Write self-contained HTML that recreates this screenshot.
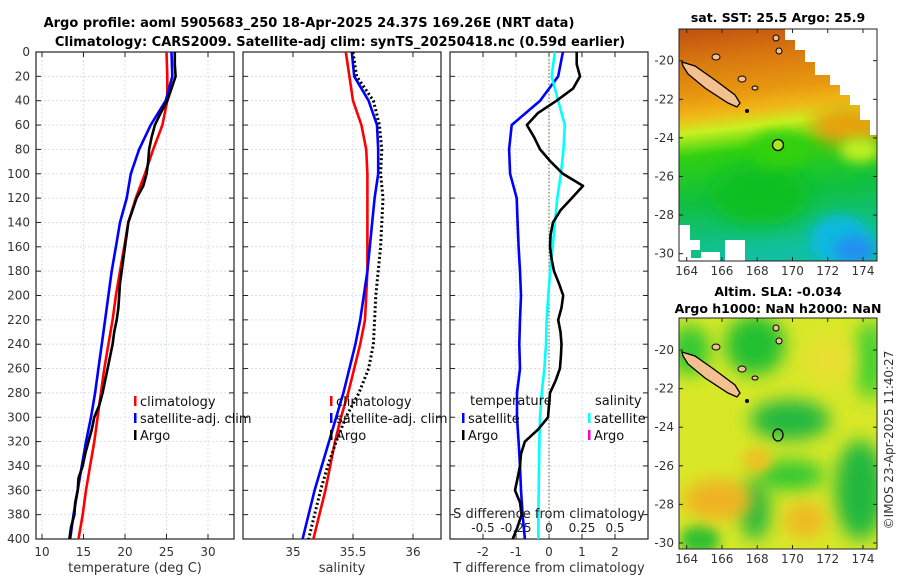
<!DOCTYPE html>
<html><head><meta charset="utf-8"><style>
body{margin:0;background:#fff;width:900px;height:580px;overflow:hidden}
svg{display:block;font-family:"DejaVu Sans","Liberation Sans",sans-serif}
</style></head><body>
<svg id="fig" width="900" height="580" viewBox="0 0 900 580">
<defs>
<filter id="bl" x="-50%" y="-50%" width="200%" height="200%"><feGaussianBlur stdDeviation="9"/></filter>
<filter id="bl2" x="-50%" y="-50%" width="200%" height="200%"><feGaussianBlur stdDeviation="6"/></filter>
<clipPath id="m1c"><rect x="679" y="29" width="198" height="232"/></clipPath>
<clipPath id="m2c"><rect x="679" y="318" width="198" height="231"/></clipPath>
<linearGradient id="sstg" x1="0" y1="0" x2="0.1" y2="1">
<stop offset="0" stop-color="#c05010"/><stop offset="0.15" stop-color="#d87810"/><stop offset="0.3" stop-color="#e89810"/>
<stop offset="0.38" stop-color="#f0b818"/><stop offset="0.45" stop-color="#c8f020"/><stop offset="0.55" stop-color="#30d010"/>
<stop offset="0.75" stop-color="#10c040"/><stop offset="1" stop-color="#10c0a0"/></linearGradient>
</defs>
<g id="titles" font-weight="bold" font-size="13" text-anchor="middle">
<text x="309" y="27">Argo profile: aoml 5905683_250 18-Apr-2025 24.37S 169.26E (NRT data)</text>
<text x="340" y="46">Climatology: CARS2009. Satellite-adj clim: synTS_20250418.nc (0.59d earlier)</text>
</g>
<g id="panels"></g>

<!-- map 1 -->
<g>
<g clip-path="url(#m1c)">
<rect x="679" y="29" width="198" height="232" fill="url(#sstg)"/>
<ellipse cx="760" cy="195" rx="50" ry="30" fill="#10c020" filter="url(#bl)"/>
<ellipse cx="850" cy="125" rx="40" ry="20" fill="#e8a010" filter="url(#bl)"/>
<ellipse cx="860" cy="150" rx="20" ry="12" fill="#c0f020" filter="url(#bl2)"/>
<ellipse cx="840" cy="240" rx="30" ry="25" fill="#10b8e0" filter="url(#bl2)"/>
<ellipse cx="855" cy="250" rx="20" ry="14" fill="#2090f0" filter="url(#bl2)"/>
<ellipse cx="780" cy="150" rx="30" ry="18" fill="#30d010" filter="url(#bl2)"/>
<polygon points="785,29 877,29 877,135 870,135 870,120 860,120 860,105 850,105 850,95 840,95 840,85 830,85 830,75 815,75 815,62 805,62 805,50 795,50 795,40 785,40" fill="#fff"/>
<polygon points="679,225 690,225 690,240 700,240 700,252 720,252 720,261 679,261" fill="#fff"/>
<rect x="725" y="240" width="20" height="21" fill="#fff"/>
<rect x="691" y="250" width="10" height="8" fill="#10c080"/>
</g>
<polygon points="682,62 695,66 715,80 735,95 740,103 737,107 728,103 705,88 688,74 683,66" fill="#f5c090" stroke="#000" stroke-width="1.3"/>
<ellipse cx="716" cy="57" rx="4" ry="3" fill="#f5c090" stroke="#000"/>
<ellipse cx="742" cy="79" rx="4" ry="3" fill="#f5c090" stroke="#000"/>
<ellipse cx="755" cy="88" rx="3" ry="2" fill="#f5c090" stroke="#000"/>
<ellipse cx="776" cy="38" rx="3" ry="3" fill="#f5c090" stroke="#000"/>
<ellipse cx="779" cy="51" rx="3" ry="3" fill="#f5c090" stroke="#000"/>
<circle cx="747" cy="111" r="2" fill="#000"/>
<circle cx="778" cy="145" r="5.5" fill="#a8e820" stroke="#000" stroke-width="1.3"/>
<rect x="679" y="29" width="198" height="232" fill="none" stroke="#222" stroke-width="1"/>
</g>
<!-- map 2 -->
<g>
<g clip-path="url(#m2c)">
<rect x="679" y="318" width="198" height="231" fill="#d8e828"/>
<ellipse cx="690" cy="350" rx="20" ry="25" fill="#30c830" filter="url(#bl)"/>
<ellipse cx="755" cy="345" rx="30" ry="30" fill="#20c030" filter="url(#bl)"/>
<ellipse cx="790" cy="420" rx="40" ry="20" fill="#20b840" filter="url(#bl)"/>
<ellipse cx="790" cy="475" rx="35" ry="15" fill="#30c830" filter="url(#bl)"/>
<ellipse cx="755" cy="510" rx="15" ry="30" fill="#20b840" filter="url(#bl)"/>
<ellipse cx="860" cy="490" rx="25" ry="50" fill="#20b840" filter="url(#bl)"/>
<ellipse cx="870" cy="360" rx="15" ry="40" fill="#40d030" filter="url(#bl)"/>
<ellipse cx="700" cy="540" rx="20" ry="15" fill="#30c030" filter="url(#bl2)"/>
<ellipse cx="718" cy="500" rx="35" ry="20" fill="#f0b020" filter="url(#bl)"/>
<ellipse cx="757" cy="460" rx="15" ry="12" fill="#f0c020" filter="url(#bl2)"/>
<ellipse cx="805" cy="520" rx="22" ry="18" fill="#f0b820" filter="url(#bl)"/>
<ellipse cx="830" cy="360" rx="25" ry="25" fill="#e8e030" filter="url(#bl)"/>
</g>
<polygon points="682,352 695,356 715,370 735,385 740,393 737,397 728,393 705,378 688,364 683,356" fill="#f5c090" stroke="#000" stroke-width="1.3"/>
<ellipse cx="716" cy="347" rx="4" ry="3" fill="#f5c090" stroke="#000"/>
<ellipse cx="742" cy="369" rx="4" ry="3" fill="#f5c090" stroke="#000"/>
<ellipse cx="755" cy="378" rx="3" ry="2" fill="#f5c090" stroke="#000"/>
<ellipse cx="776" cy="328" rx="3" ry="3" fill="#f5c090" stroke="#000"/>
<ellipse cx="779" cy="341" rx="3" ry="3" fill="#f5c090" stroke="#000"/>
<circle cx="747" cy="401" r="2" fill="#000"/>
<ellipse cx="778" cy="435" rx="5" ry="6" fill="none" stroke="#000" stroke-width="1.3"/>
<rect x="679" y="318" width="198" height="231" fill="none" stroke="#222" stroke-width="1"/>
</g>
<g font-weight="bold" font-size="12.5" text-anchor="middle">
<text x="778" y="22">sat. SST: 25.5 Argo: 25.9</text>
<text x="778" y="296">Altim. SLA: -0.034</text>
<text x="778" y="313">Argo h1000: NaN h2000: NaN</text>
</g>
<g id="maxes" font-size="12" fill="#333"></g>
<text transform="translate(893,440) rotate(-90)" text-anchor="middle" font-size="12" fill="#333">©IMOS 23-Apr-2025 11:40:27</text>
</svg>
<script>
// ---- data ----
const depths = [0,20,40,60,80,100,120,140,160,180,200,220,240,260,280,300,320,340,360,380,400];
const tempClim = [25.0,25.1,25.1,24.5,23.4,22.4,21.3,20.4,19.9,19.4,18.9,18.5,18.0,17.5,17.1,16.7,16.3,15.8,15.3,14.9,14.4];
const tempSat  = [25.6,25.7,24.9,23.1,21.7,20.7,20.2,19.4,18.9,18.4,18.0,17.6,17.2,16.8,16.4,15.9,15.3,14.8,14.3,13.8,13.4];
const argoDepths = [0,10,20,30,40,50,60,70,80,90,100,110,120,130,140,150,160,170,180,190,200,210,220,230,240,250,260,270,280,290,300,310,320,330,340,350,360,370,380,390,400];
const tempArgo = [26.0,26.0,26.1,25.6,25.1,24.3,23.6,23.2,22.9,22.8,22.6,22.2,21.4,20.9,20.4,20.2,20.0,19.8,19.6,19.4,19.3,19.2,19.0,18.7,18.5,18.2,17.9,17.6,17.3,16.9,16.3,16.0,15.6,15.2,14.9,14.4,14.3,14.0,13.9,13.5,13.3];
const salClim = [35.44,35.47,35.50,35.57,35.61,35.62,35.62,35.62,35.62,35.62,35.61,35.60,35.56,35.51,35.46,35.40,35.35,35.31,35.27,35.22,35.17];
const salSat  = [35.49,35.51,35.63,35.70,35.71,35.71,35.68,35.66,35.64,35.62,35.59,35.56,35.52,35.47,35.42,35.36,35.30,35.24,35.18,35.13,35.08];
const salArgo = [35.50,35.53,35.67,35.72,35.74,35.73,35.75,35.74,35.73,35.71,35.69,35.68,35.67,35.63,35.55,35.44,35.36,35.29,35.23,35.18,35.13];
const tDiffArgo = [0.84,0.84,0.94,0.73,0.23,-0.33,-0.67,-0.45,-0.27,0.05,0.42,1.03,0.69,0.35,0.12,0.05,0.03,0.08,0.15,0.3,0.43,0.38,0.28,0.35,0.38,0.36,0.33,0.2,0.03,0.0,-0.03,-0.33,-0.73,-0.85,-0.88,-0.95,-1.03,-0.88,-0.83,-0.95,-1.1];
const tDiffSat = [0.42,0.28,-0.27,-1.13,-1.21,-1.18,-0.98,-0.95,-0.92,-0.88,-0.85,-0.88,-0.9,-0.88,-0.97,-0.97,-0.92,-0.88,-0.85,-0.8,-0.73];
const sDiffSat = [0.045,0.02,0.07,0.12,0.11,0.09,0.063,0.045,0.028,0.008,-0.005,-0.018,-0.023,-0.035,-0.055,-0.068,-0.073,-0.076,-0.078,-0.08,-0.081];
const depthTicks = [0,20,40,60,80,100,120,140,160,180,200,220,240,260,280,300,320,340,360,380,400];
const tempTicks = [10,15,20,25,30];
const salTicks = [35,35.5,36];
const dTTicks = [-2,-1,0,1,2];
const dSTicks = ["-0.5","-0.25","0","0.25","0.5"];
const lonTicks = [164,166,168,170,172,174];
const latTicks = [-20,-22,-24,-26,-28,-30];

const NS='http://www.w3.org/2000/svg';
const top0=52, bot=539;
const yD = d => top0 + d*(bot-top0)/400;
function el(tag, attrs, parent){const e=document.createElementNS(NS,tag);for(const k in attrs)e.setAttribute(k,attrs[k]);parent.appendChild(e);return e;}
const P=document.getElementById('panels');
const panels=[
 {x0:36,x1:234,v0:10,px0:42,scale:8.3,name:'temperature-panel'},
 {x0:243,x1:441,v0:35,px0:293,scale:120,name:'salinity-panel'},
 {x0:450,x1:648,v0:0,px0:549,scale:33,name:'difference-panel'}];
function xf(p){return v=>p.px0+(v-p.v0)*p.scale;}
function line(p, xs, ds, color, dash, name){
  const f=xf(p); const pts=xs.map((v,i)=>f(v).toFixed(1)+','+yD(ds[i]).toFixed(1)).join(' ');
  const e=el('polyline',{points:pts,fill:'none',stroke:color,'stroke-width':dash?3:2.6,'stroke-linejoin':'round'},P);
  if(dash)e.setAttribute('stroke-dasharray',dash);
  
  
}
function frame(p, ticks, labels, title){
  const g=el('g',{},P);
  
  
  const f=xf(p);
  depthTicks.forEach(d=>{el('line',{x1:p.x0,x2:p.x1,y1:yD(d),y2:yD(d),stroke:'#cfd5f0','stroke-width':0.8,'stroke-dasharray':'2,2'},g);
    el('line',{x1:p.x0,x2:p.x0+5,y1:yD(d),y2:yD(d),stroke:'#222'},g);el('line',{x1:p.x1-5,x2:p.x1,y1:yD(d),y2:yD(d),stroke:'#222'},g);});
  ticks.forEach((t,i)=>{const x=f(t);el('line',{x1:x,x2:x,y1:top0,y2:bot,stroke:'#cfd5f0','stroke-width':0.8,'stroke-dasharray':'2,2'},g);
    el('line',{x1:x,x2:x,y1:bot-5,y2:bot,stroke:'#222'},g);el('line',{x1:x,x2:x,y1:top0,y2:top0+5,stroke:'#222'},g);
    const tx=el('text',{x:x,y:556,'text-anchor':'middle','font-size':12,fill:'#333'},g);tx.textContent=labels[i];
    
    });
  el('rect',{x:p.x0,y:top0,width:p.x1-p.x0,height:bot-top0,fill:'none',stroke:'#222','stroke-width':1.2},g);
  const at=el('text',{x:(p.x0+p.x1)/2,y:572,'text-anchor':'middle','font-size':13,fill:'#333'},g);at.textContent=title;
  
  
}
frame(panels[0],tempTicks,tempTicks.map(String),'temperature (deg C)');
frame(panels[1],salTicks,salTicks.map(String),'salinity');
frame(panels[2],dTTicks,dTTicks.map(String),'T difference from climatology');
depthTicks.forEach(d=>{const t=el('text',{x:30,y:yD(d)+4,'text-anchor':'end','font-size':12,fill:'#333'},P);t.textContent=d;
  
  });
el('line',{x1:549,x2:549,y1:top0,y2:bot,stroke:'#556b2f','stroke-width':1,'stroke-dasharray':'1.5,2'},P);
line(panels[0],tempClim,depths,'#ff0000',null,'temp-climatology-line');
line(panels[0],tempSat,depths,'#0000ff',null,'temp-satellite-line');
line(panels[0],tempArgo,argoDepths,'#000',null,'temp-argo-line');
line(panels[1],salClim,depths,'#ff0000',null,'sal-climatology-line');
line(panels[1],salSat,depths,'#0000ff',null,'sal-satellite-line');
line(panels[1],salArgo,depths,'#000','2,2.5','sal-argo-line');
line(panels[2],tDiffSat,depths,'#0000ff',null,'tdiff-satellite-line');
const sp={px0:549,v0:0,scale:132};
line(sp,sDiffSat,depths,'#00ffff',null,'sdiff-satellite-line');
line(panels[2],tDiffArgo,argoDepths,'#000',null,'tdiff-argo-line');
const sx=[483,516,549,582,615];
dSTicks.forEach((s,i)=>{const t=el('text',{x:sx[i],y:532,'text-anchor':'middle','font-size':12,fill:'#222'},P);t.textContent=s;
  
  });
const st=el('text',{x:549,y:518,'text-anchor':'middle','font-size':13,fill:'#222'},P);st.textContent='S difference from climatology';


function leg(x,y,color,label,name){
  el('rect',{x:x,y:y-9,width:2.5,height:10,fill:color},P);
  const t=el('text',{x:x+6,y:y+1,'font-size':13,fill:'#111'},P);t.textContent=label;
  
  
}
leg(134,405,'#ff0000','climatology','legend-climatology');
leg(134,422,'#0000ff','satellite-adj. clim','legend-satellite-adj');
leg(134,439,'#000','Argo','legend-argo');
leg(330,405,'#ff0000','climatology','legend-sal-climatology');
leg(330,422,'#0000ff','satellite-adj. clim','legend-sal-satellite-adj');
leg(330,439,'#000','Argo','legend-sal-argo');
const th=el('text',{x:470,y:405,'font-size':13,fill:'#111'},P);th.textContent='temperature';


leg(462,422,'#0000ff','satellite','legend-t-satellite');
leg(462,439,'#000','Argo','legend-t-argo');
const sh=el('text',{x:595,y:405,'font-size':13,fill:'#111'},P);sh.textContent='salinity';


leg(588,422,'#00ffff','satellite','legend-s-satellite');
leg(588,439,'#ff00cc','Argo','legend-s-argo');
const M=document.getElementById('maxes');
const lonX=l=>686.7+(l-164)*17.63;
[[29,261,60.7],[318,549,350]].forEach(([t0,b0,y20],mi)=>{
  lonTicks.forEach(l=>{const x=lonX(l);el('line',{x1:x,x2:x,y1:b0-4,y2:b0,stroke:'#222'},M);el('line',{x1:x,x2:x,y1:t0,y2:t0+4,stroke:'#222'},M);
    const t=el('text',{x:x,y:b0+14,'text-anchor':'middle'},M);t.textContent=l;
    
    });
  latTicks.forEach(a=>{const y=y20+(-20-a)*19.3;el('line',{x1:679,x2:683,y1:y,y2:y,stroke:'#222'},M);el('line',{x1:873,x2:877,y1:y,y2:y,stroke:'#222'},M);
    const t=el('text',{x:674,y:y+4,'text-anchor':'end'},M);t.textContent=a;
    
    });
});
</script>
</body></html>
